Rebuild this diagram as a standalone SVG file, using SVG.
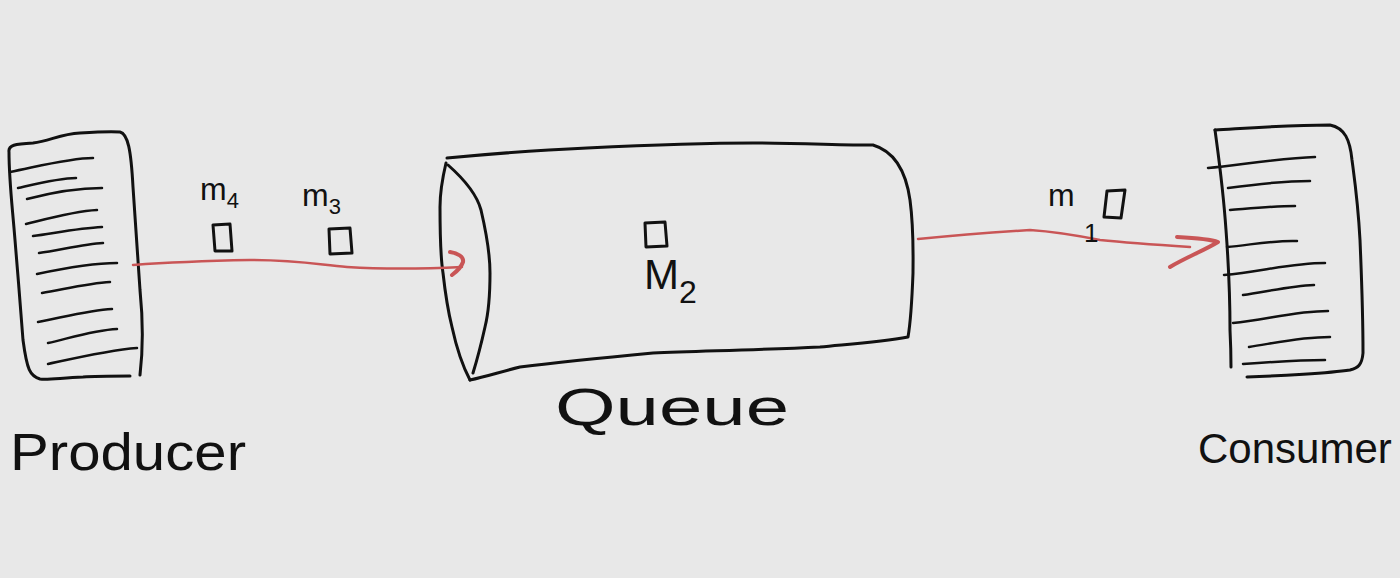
<svg xmlns="http://www.w3.org/2000/svg" width="1400" height="578" viewBox="0 0 1400 578">
<style>
.ink{fill:none;stroke:#111;stroke-width:3;stroke-linecap:round;stroke-linejoin:round}
.thin{fill:none;stroke:#111;stroke-width:2.5;stroke-linecap:round}
.red{fill:none;stroke:#c95556;stroke-width:2.5;stroke-linecap:round;stroke-linejoin:round}
.redhead{fill:none;stroke:#c95556;stroke-width:4;stroke-linecap:round;stroke-linejoin:round}
.lbl{font-family:"Liberation Sans",Arial,sans-serif;fill:#111}
.big{font-size:52px}
.small{font-size:32px}
.box{fill:none;stroke:#111;stroke-width:3;stroke-linejoin:round}
</style>
<rect width="1400" height="578" fill="#e8e8e8"/>

<g id="producer">
  <path class="ink" d="M9,152 C8,145 15,144 33,143 C50,141 60,134 80,133 C95,132 110,131 120,132 C128,134 131,150 133,187 C136,230 138,263 140,290 C143,320 143,350 140,375 M130,376 C110,376 95,376 83,377 C60,378 48,380 40,379 C30,376 27,370 23,340 C20,300 18,277 15,240 C12,203 9,180 9,152"/>
  <g class="thin">
    <path d="M10,172 C40,166 70,158 93,158"/>
    <path d="M18,188 C40,183 60,178 76,178"/>
    <path d="M27,199 C50,193 80,188 102,188"/>
    <path d="M26,224 C50,218 75,211 97,210"/>
    <path d="M33,236 C55,233 80,228 102,227"/>
    <path d="M39,253 C60,250 85,244 103,243"/>
    <path d="M37,274 C65,268 95,263 117,263"/>
    <path d="M42,293 C65,289 90,283 110,282"/>
    <path d="M38,322 C60,318 90,310 112,309"/>
    <path d="M48,343 C70,338 95,330 117,329"/>
    <path d="M48,364 C80,357 110,350 137,348"/>
  </g>
  <text class="lbl big" x="10" y="470" textLength="236" lengthAdjust="spacingAndGlyphs">Producer</text>
</g>

<g id="queue">
  <path class="ink" d="M447,158 C500,153 540,150 587,148 C650,145 700,143 753,143 C800,143 840,145 873,145 C890,150 905,165 910,200 C914,230 913,260 913,273 C912,300 911,320 908,337 C880,342 850,344 820,347 C760,350 700,351 653,353 C600,358 560,362 520,367 C500,372 485,377 470,380"/>
  <path class="ink" d="M446,163 C442,180 440,195 440,207 C440,240 441,260 443,273 C446,300 449,315 452,327 C457,350 462,365 470,380"/>
  <path class="ink" d="M448,165 C465,180 477,195 481,210 C488,240 490,260 490,273 C490,300 488,315 485,327 C481,345 477,360 473,373"/>
  <text class="lbl big" x="555" y="425" textLength="234" lengthAdjust="spacingAndGlyphs">Queue</text>
</g>

<g id="m2">
  <path class="box" d="M645,223 L665,222 L667,246 L646,247 Z"/>
  <text class="lbl" x="644" y="289" font-size="42">M<tspan font-size="32" dy="14">2</tspan></text>
</g>

<g id="consumer">
  <path class="ink" d="M1215,130 C1250,128 1290,125 1330,125 C1345,128 1350,140 1352,160 C1356,190 1358,203 1360,240 C1362,287 1363,320 1363,353 C1362,365 1358,368 1350,370 C1330,373 1280,376 1247,377"/>
  <path class="ink" d="M1215,130 C1219,160 1223,187 1226,230 C1229,270 1230,300 1230,330 C1231,350 1231,360 1231,367"/>
  <g class="thin">
    <path d="M1208,168 C1240,165 1280,158 1315,157"/>
    <path d="M1228,188 C1250,185 1285,181 1310,181"/>
    <path d="M1230,210 C1255,208 1275,206 1295,206"/>
    <path d="M1227,247 C1250,245 1275,240 1297,241"/>
    <path d="M1224,275 C1260,272 1290,263 1325,263"/>
    <path d="M1243,295 C1265,292 1290,286 1314,285"/>
    <path d="M1233,323 C1265,320 1295,311 1328,311"/>
    <path d="M1249,347 C1275,343 1300,337 1330,337"/>
    <path d="M1243,364 C1270,362 1300,360 1325,360"/>
  </g>
  <text class="lbl" x="1198" y="463" font-size="42">Consumer</text>
</g>

<g id="connectors">
  <path class="red" d="M133,265 C160,263 200,261 250,260 C300,260 320,265 347,267 C380,269 420,269 462,267"/>
  <path class="redhead" d="M450,252 C458,253 464,257 463,262 C461,268 456,272 452,275"/>
  <path class="red" d="M918,239 C960,235 1000,232 1030,230 C1060,232 1080,236 1100,240 C1130,243 1160,245 1190,247"/>
  <path class="redhead" d="M1177,237 C1195,238 1210,239 1218,242 C1205,250 1185,258 1170,267"/>
</g>

<g id="m4">
  <text class="lbl small" x="200" y="200">m<tspan font-size="22" dy="8">4</tspan></text>
  <path class="box" d="M213,225 L230,224 L232,251 L215,251 Z"/>
</g>
<g id="m3">
  <text class="lbl small" x="302" y="206">m<tspan font-size="22" dy="8">3</tspan></text>
  <path class="box" d="M329,229 L350,228 L352,253 L330,254 Z"/>
</g>
<g id="m1">
  <text class="lbl small" x="1048" y="206">m<tspan font-size="26" x="1084" y="242">1</tspan></text>
  <path class="box" d="M1107,191 L1125,190 L1121,218 L1104,217 Z"/>
</g>
</svg>
